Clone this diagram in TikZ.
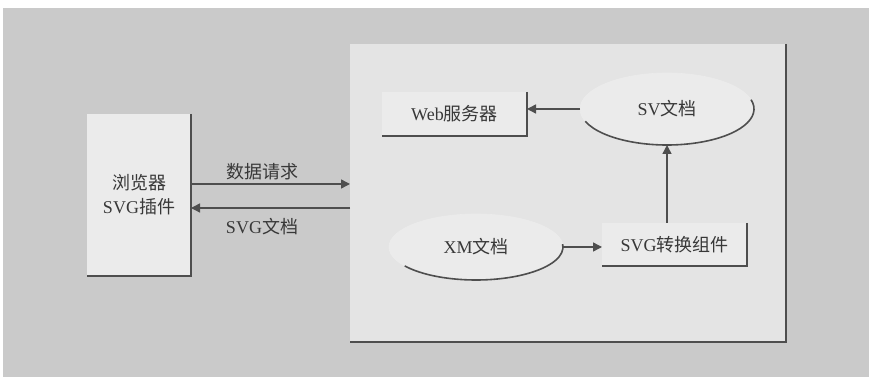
\documentclass[tikz,border=0pt]{standalone}
\usepackage{fontspec}
\setmainfont{Liberation Serif}
\newfontfamily\cjk{Noto Sans CJK SC}
\usetikzlibrary{arrows.meta,shapes.geometric}
\definecolor{bg}{HTML}{CACACA}
\definecolor{boxfill}{HTML}{EBEBEB}
\definecolor{bigfill}{HTML}{E4E4E4}
\definecolor{ink}{HTML}{383838}
\definecolor{edge}{HTML}{4E4E4E}
\tikzset{
  txt/.style={text=ink,font=\fontsize{18}{24}\selectfont,align=center},
  panel/.style={fill=boxfill,draw=none,inner sep=0pt,outer sep=0pt},
  oval/.style={ellipse,fill=boxfill,draw=white!85!gray,line width=0.6pt,inner sep=0pt,outer sep=0pt},
  shade/.style={draw=edge,line width=1.8pt},
  conn/.style={draw=edge,line width=1.4pt,-{Triangle[length=9pt,width=9pt]}},
}
\begin{document}
\begin{tikzpicture}[x=1pt,y=1pt]
\useasboundingbox (0,0) rectangle (869,377);
\fill[white] (0,0) rectangle (869,377);
\fill[bg] (3,0) rectangle (869,369);
% big panel
\node[panel,fill=bigfill,minimum width=436pt,minimum height=298pt] (big) at (568,184) {};
\draw[shade] (big.north east) -- (big.south east) -- (big.south west);
% left box
\node[panel,minimum width=104pt,minimum height=162pt] (brw) at (139,182) {};
\draw[shade] (brw.north east) -- (brw.south east) -- (brw.south west);
\node[txt] at (brw.center) {{\cjk 浏览器}\\SVG{\cjk 插件}};
% web box
\node[panel,minimum width=145pt,minimum height=44pt] (web) at (454.5,263) {};
\draw[shade] (web.north east) -- (web.south east) -- (web.south west);
\node[txt] at (web.center) {Web{\cjk 服务器}};
% svg box
\node[panel,minimum width=145pt,minimum height=43pt] (svg) at (674.5,132.5) {};
\draw[shade] (svg.north east) -- (svg.south east) -- (svg.south west);
\node[txt] at (svg.center) {SVG{\cjk 转换组件}};
% ellipses
\node[oval,minimum width=174pt,minimum height=72pt] (sv) at (667,268) {};
\draw[edge,line width=1.6pt] ([shift={(200:87 and 36)}]sv.center) arc[start angle=200,end angle=375,x radius=87,y radius=36];
\node[txt] at (sv.center) {SV{\cjk 文档}};
\node[oval,minimum width=174pt,minimum height=66pt] (xm) at (476,130) {};
\draw[edge,line width=1.6pt] ([shift={(215:87 and 33)}]xm.center) arc[start angle=215,end angle=365,x radius=87,y radius=33];
\node[txt] at (xm.center) {XM{\cjk 文档}};
% connectors
\coordinate (req) at (brw.east |- 0,193);
\coordinate (resp) at (brw.east |- 0,169);
\draw[conn] (req) -- (req -| big.west);
\draw[conn] (resp -| big.west) -- (resp);
\node[txt] (lreq) at (262,205) {{\cjk 数据请求}};
\node[txt] (lresp) at (262,150) {SVG{\cjk 文档}};
\draw[conn] (sv.west) -- (sv.west -| web.east);
\draw[conn] (sv.south |- svg.north) -- (sv.south);
\draw[conn] (xm.east) -- (xm.east -| svg.west);
\end{tikzpicture}
\end{document}
